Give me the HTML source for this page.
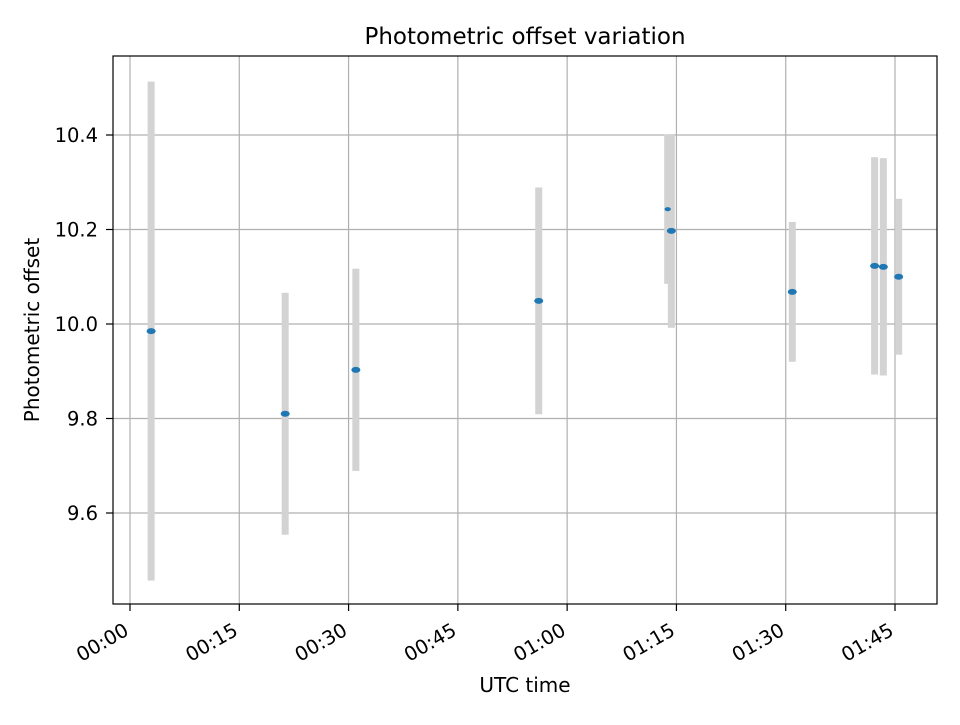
<!DOCTYPE html>
<html><head><meta charset="utf-8"><style>
body{margin:0;background:#fff;}
svg text{font-family:"DejaVu Sans","Liberation Sans",sans-serif;fill:#000;}
</style></head><body>
<svg id="chart" width="960" height="720" xmlns="http://www.w3.org/2000/svg">
<rect width="960" height="720" fill="#fff"/>
<g id="grid"></g>
<g id="bars"></g>
<g id="pts"></g>
<rect x="113" y="56" width="824" height="548" fill="none" stroke="#000" stroke-width="1.2"/>
<g id="ticks"></g>
<text x="525" y="44" font-size="23" text-anchor="middle">Photometric offset variation</text>
<text x="525" y="692" font-size="20" text-anchor="middle">UTC time</text>
<text transform="translate(39,330) rotate(-90)" font-size="20" text-anchor="middle">Photometric offset</text>
</svg>
<script>
const times = [2.9, 21.3, 31.0, 56.1, 73.8, 74.3, 90.9, 102.2, 103.4, 105.5];
const values = [9.985, 9.810, 9.903, 10.049, 10.243, 10.197, 10.068, 10.123, 10.121, 10.100];
const errors = [0.528, 0.256, 0.214, 0.240, 0.158, 0.205, 0.148, 0.230, 0.230, 0.165];
const markerSizes = [1, 1, 1, 1, 0.7, 1, 1, 1, 1, 1];
const xTicks = [0, 15, 30, 45, 60, 75, 90, 105];
const xTickLabels = ["00:00","00:15","00:30","00:45","01:00","01:15","01:30","01:45"];
const yTicks = [9.6, 9.8, 10.0, 10.2, 10.4];
const yTickLabels = ["9.6","9.8","10.0","10.2","10.4"];

const NS = "http://www.w3.org/2000/svg";
const X = m => 130 + m * (765 / 105);
const Y = v => 324 - (v - 10.0) * 472.5;
function mk(tag, attrs, parent){const e=document.createElementNS(NS,tag);for(const k in attrs)e.setAttribute(k,attrs[k]);parent.appendChild(e);return e;}
const grid=document.getElementById('grid'), bars=document.getElementById('bars'), pts=document.getElementById('pts'), ticks=document.getElementById('ticks');

xTicks.forEach((t,i)=>{
  const x=X(t);
  const g=mk('line',{x1:x,x2:x,y1:56,y2:604,stroke:'#b0b0b0','stroke-width':1.2},grid);
  
  
  const tk=mk('line',{x1:x,x2:x,y1:604,y2:611,stroke:'#000','stroke-width':1.2},ticks);
  
  
  const tx=mk('text',{x:x,y:634,'font-size':19.5,'text-anchor':'end',transform:`rotate(-30 ${x} 634)`},ticks);
  tx.textContent=xTickLabels[i];
  
  
});
yTicks.forEach((t,i)=>{
  const y=Y(t);
  const g=mk('line',{x1:113,x2:937,y1:y,y2:y,stroke:'#b0b0b0','stroke-width':1.2},grid);
  
  
  const tk=mk('line',{x1:106,x2:113,y1:y,y2:y,stroke:'#000','stroke-width':1.2},ticks);
  
  
  const tx=mk('text',{x:98,y:y+7,'font-size':19.5,'text-anchor':'end'},ticks);
  tx.textContent=yTickLabels[i];
  
  
});
times.forEach((t,i)=>{
  const x=X(t);
  const b=mk('rect',{x:x-3.5,y:Y(values[i]+errors[i]),width:7,height:Y(values[i]-errors[i])-Y(values[i]+errors[i]),fill:'#d3d3d3'},bars);
  
  
  const s=markerSizes[i];
  const p=mk('ellipse',{cx:x,cy:Y(values[i]),rx:4.5*s,ry:3*s,fill:'#1f77b4'},pts);
  
  
});
</script>
</body></html>
